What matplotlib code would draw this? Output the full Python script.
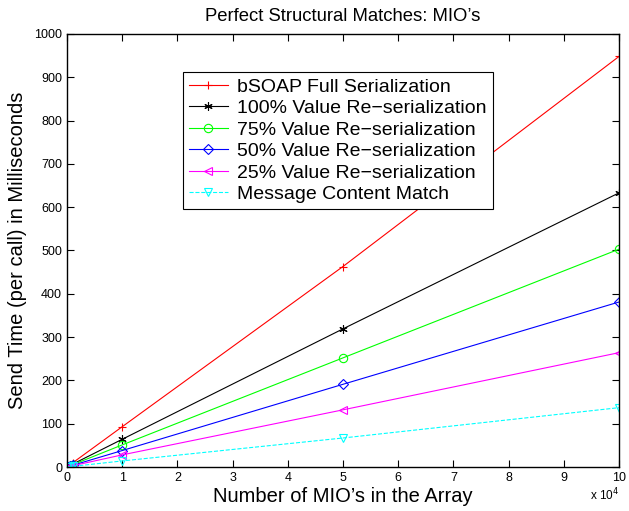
import matplotlib
matplotlib.use("Agg")
import matplotlib.pyplot as plt

plt.rcParams['font.family'] = ['Liberation Sans', 'DejaVu Sans']

x_vals = [100, 500, 1000, 10000, 50000, 100000]
full_ser = [1.0, 4.7, 9.4, 93, 463, 948]
val100 = [0.7, 3.2, 6.4, 64, 319, 633]
val75 = [0.5, 2.6, 5.1, 51, 252, 503]
val50 = [0.4, 1.9, 3.8, 38, 191, 381]
val25 = [0.3, 1.4, 2.8, 28, 132, 264]
content_match = [0.15, 0.7, 1.4, 14, 67, 137]

labels = ['bSOAP Full Serialization', '100% Value Re\u2212serialization',
          '75% Value Re\u2212serialization', '50% Value Re\u2212serialization',
          '25% Value Re\u2212serialization', 'Message Content Match']

series = [full_ser, val100, val75, val50, val25, content_match]
colors = ['#ff0000', '#000000', '#00ff00', '#0000ff', '#ff00ff', '#00ffff']
markers = ['+', (6, 2, 0), 'o', 'D', '<', 'v']
msizes = [6, 6, 6, 5, 6, 6]
styles = ['-', '-', '-', '-', '-', '--']

fig = plt.figure(figsize=(6.29, 5.11), dpi=100)
ax = fig.add_axes([0.1065, 0.0861, 0.8775, 0.8474])

for y, c, m, ms, ls, lab in zip(series, colors, markers, msizes, styles, labels):
    ax.plot(x_vals, y, color=c, marker=m, linestyle=ls, linewidth=0.8,
            markersize=ms, markerfacecolor='none', markeredgecolor=c,
            markeredgewidth=0.8, label=lab)

ax.set_xlim(0, 100000)
ax.set_ylim(0, 1000)
ax.set_xticks([i * 10000 for i in range(11)])
ax.set_xticklabels([str(i) for i in range(11)])
ax.set_yticks(range(0, 1001, 100))
ax.tick_params(direction='in', top=True, right=True, labelsize=9, length=5, width=0.8)
for s in ax.spines.values():
    s.set_linewidth(1.0)

ax.set_title("Perfect Structural Matches: MIO\u2019s", fontsize=13.3, pad=9)
ax.set_xlabel("Number of MIO\u2019s in the Array", fontsize=14.5, labelpad=2)
ax.set_ylabel("Send Time (per call) in Milliseconds", fontsize=14.5, labelpad=5)
ax.text(1.0, -0.045, r"x 10$^4$", transform=ax.transAxes, ha='right', va='top', fontsize=8.5)

leg = ax.legend(loc='upper left', bbox_to_anchor=(0.21, 0.912), fontsize=14,
                frameon=True, fancybox=False, edgecolor='black', framealpha=1,
                handlelength=2.0, borderpad=0.3, labelspacing=0.2, handletextpad=0.5,
                borderaxespad=0)
leg.get_frame().set_linewidth(0.8)

fig.savefig("out.png", dpi=100)
